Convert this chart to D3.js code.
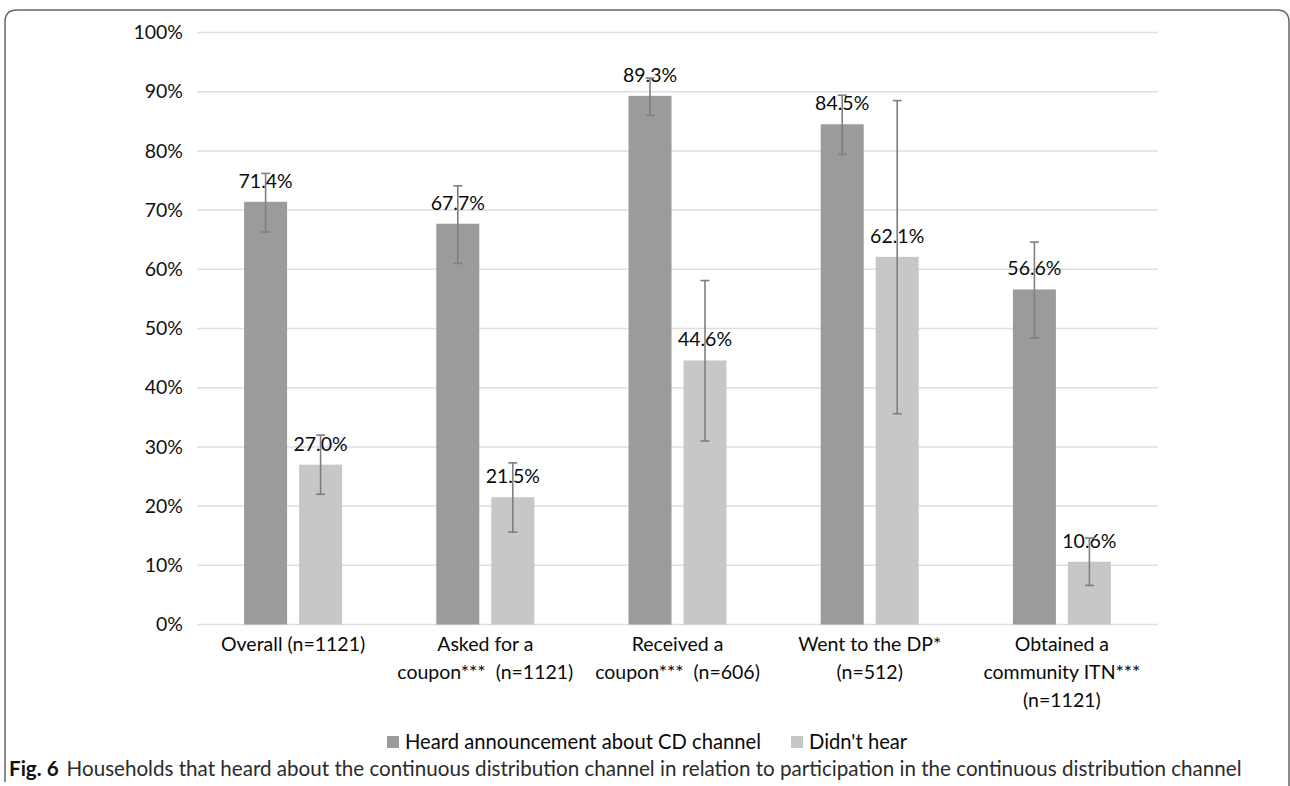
<!DOCTYPE html>
<html>
<head>
<meta charset="utf-8">
<script src="https://cdn.jsdelivr.net/npm/d3@7"></script>
<style>
  html, body { margin: 0; padding: 0; background: #fff; }
  svg { display: block; }
  text { font-family: Lato, "Open Sans", sans-serif; }
</style>
</head>
<body>
<svg id="chart" width="1290" height="786"></svg>
<script>
// ---- data ----
const categories = [
  ["Overall (n=1121)"],
  ["Asked for a", "coupon***  (n=1121)"],
  ["Received a", "coupon***  (n=606)"],
  ["Went to the DP*", "(n=512)"],
  ["Obtained a", "community ITN***", "(n=1121)"]
];
const seriesNames = ["Heard announcement about CD channel", "Didn't hear"];
const heardValues = [71.4, 67.7, 89.3, 84.5, 56.6];
const heardLow    = [66.3, 61.0, 86.0, 79.4, 48.4];
const heardHigh   = [76.2, 74.1, 92.3, 89.4, 64.6];
const notHeardValues = [27.0, 21.5, 44.6, 62.1, 10.6];
const notHeardLow    = [22.0, 15.6, 31.0, 35.6, 6.6];
const notHeardHigh   = [32.0, 27.3, 58.1, 88.5, 14.6];
const yTicks = [0, 10, 20, 30, 40, 50, 60, 70, 80, 90, 100];
const caption = "Households that heard about the continuous distribution channel in relation to participation in the continuous distribution channel";

const colors = ["#9b9b9b", "#c7c7c7"];

const svg = d3.select("#chart");

// frame
svg.append("path")
  .attr("d", "M5,782 L5,22 Q5,10 17,10 L1277,10 Q1289,10 1289,22 L1289,786")
  .attr("fill", "none").attr("stroke", "#666").attr("stroke-width", 1.5);

const plotLeft = 197, plotRight = 1158, plotTop = 32.5, plotBottom = 624.5;
const y = d3.scaleLinear().domain([0, 100]).range([plotBottom, plotTop]);
const catKeys = categories.map((c, i) => i);
const x0 = d3.scaleBand().domain(catKeys).range([plotLeft, plotRight]).padding(0);
const groupW = 98;
const x1 = d3.scaleBand().domain([0, 1])
  .range([(x0.bandwidth() - groupW) / 2, (x0.bandwidth() + groupW) / 2])
  .paddingInner(0.218);

// gridlines
svg.append("g").selectAll("line").data(yTicks).join("line")
  .attr("x1", plotLeft).attr("x2", plotRight)
  .attr("y1", d => y(d)).attr("y2", d => y(d))
  .attr("stroke", "#dedede").attr("stroke-width", 1.5);

// y axis labels
const yAxis = d3.axisLeft(y).tickValues(yTicks).tickFormat(d => d + "%").tickSize(0).tickPadding(14);
const yg = svg.append("g").attr("transform", `translate(${plotLeft},0)`).call(yAxis);
yg.select(".domain").remove();
yg.selectAll("text").attr("font-size", 19.5).attr("fill", "#111")
  .attr("font-family", "Lato, sans-serif");

const data = catKeys.map(i => [
  {s: 0, v: heardValues[i], lo: heardLow[i], hi: heardHigh[i]},
  {s: 1, v: notHeardValues[i], lo: notHeardLow[i], hi: notHeardHigh[i]}
]);

const groups = svg.append("g").selectAll("g").data(data).join("g")
  .attr("transform", (d, i) => `translate(${x0(i)},0)`);

groups.selectAll("rect").data(d => d).join("rect")
  .attr("x", d => x1(d.s)).attr("width", x1.bandwidth())
  .attr("y", d => y(d.v)).attr("height", d => y(0) - y(d.v))
  .attr("fill", d => colors[d.s]);

// data labels
groups.selectAll("text.lbl").data(d => d).join("text").attr("class", "lbl")
  .attr("x", d => x1(d.s) + x1.bandwidth() / 2)
  .attr("y", d => y(d.v) - 14)
  .attr("text-anchor", "middle").attr("font-size", 19.5).attr("fill", "#0a0a0a")
  .text(d => d.v.toFixed(1) + "%");

// error bars
const eb = groups.selectAll("g.eb").data(d => d).join("g").attr("class", "eb")
  .attr("stroke", "#7f7f7f").attr("stroke-width", 1.6);
eb.append("line")
  .attr("x1", d => x1(d.s) + x1.bandwidth() / 2).attr("x2", d => x1(d.s) + x1.bandwidth() / 2)
  .attr("y1", d => y(d.lo)).attr("y2", d => y(d.hi));
eb.append("line")
  .attr("x1", d => x1(d.s) + x1.bandwidth() / 2 - 4.5).attr("x2", d => x1(d.s) + x1.bandwidth() / 2 + 4.5)
  .attr("y1", d => y(d.lo)).attr("y2", d => y(d.lo));
eb.append("line")
  .attr("x1", d => x1(d.s) + x1.bandwidth() / 2 - 4.5).attr("x2", d => x1(d.s) + x1.bandwidth() / 2 + 4.5)
  .attr("y1", d => y(d.hi)).attr("y2", d => y(d.hi));

// category labels
const cl = svg.append("g").selectAll("text").data(categories).join("text")
  .attr("x", (d, i) => x0(i) + x0.bandwidth() / 2)
  .attr("y", 651)
  .attr("text-anchor", "middle").attr("font-size", 19.5).attr("fill", "#0a0a0a")
  .style("white-space", "pre");
cl.selectAll("tspan").data(d => d).join("tspan")
  .attr("x", function() { return this.parentNode.getAttribute("x"); })
  .attr("dy", (d, i) => i === 0 ? 0 : 28)
  .text(d => d);

// legend
const legend = svg.append("g").attr("transform", "translate(387,742)");
const legX = [0, 404];
seriesNames.forEach((name, i) => {
  const g = legend.append("g").attr("transform", `translate(${legX[i]},0)`);
  g.append("rect").attr("x", 0).attr("y", -6).attr("width", 12).attr("height", 12).attr("fill", colors[i]);
  g.append("text").attr("x", 18).attr("y", 7).attr("font-size", 20.2).attr("fill", "#0a0a0a")
    .style("white-space", "pre").text(name);
});

// caption
const cap = svg.append("text").attr("x", 9).attr("y", 776).attr("font-size", 20.6).attr("fill", "#2b2b2b");
cap.append("tspan").attr("font-weight", "bold").attr("fill", "#111").text("Fig. 6");
cap.append("tspan").attr("dx", 8).text(caption);
</script>
</body>
</html>
